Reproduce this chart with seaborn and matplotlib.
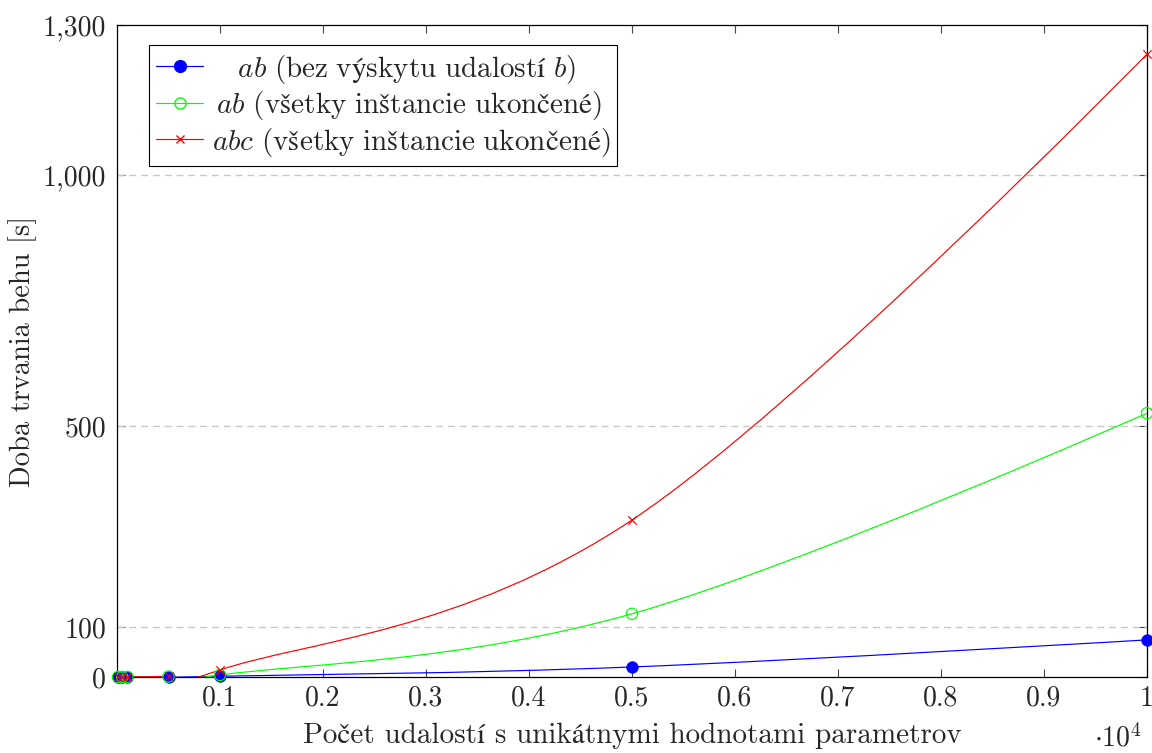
import numpy as np
import pandas as pd
import seaborn as sns
import matplotlib.pyplot as plt
from matplotlib.path import Path
from matplotlib.patches import PathPatch
from matplotlib.lines import Line2D

# pocet udalosti (x) a doba behu v sekundach (y)
events = [10, 50, 100, 500, 1000, 5000, 10000]
ab_no_b = [0.01, 0.05, 0.1, 0.5, 1.5, 20, 74]
ab_all = [0.02, 0.08, 0.2, 0.9, 4, 126, 526]
abc_all = [0.03, 0.15, 0.4, 2, 14, 313, 1242]

# mathtext, kvoli kurzive; medzery na zaciatku napodobnuju centrovanie v legende
series_names = [
    r"$\quad ab\ \mathrm{(bez\ výskytu\ udalostí}\ b\mathrm{)}$",
    r"$\, ab\ \mathrm{(všetky\ inštancie\ ukončené)}$",
    r"$abc\ \mathrm{(všetky\ inštancie\ ukončené)}$",
]

x_ticks = [1000, 2000, 3000, 4000, 5000, 6000, 7000, 8000, 9000, 10000]
x_tick_labels = ["0.1", "0.2", "0.3", "0.4", "0.5", "0.6", "0.7", "0.8", "0.9", "1"]
y_ticks = [0, 100, 500, 1000, 1300]
y_tick_labels = ["0", "100", "500", "1,000", "1,300"]
grid_ticks = [100, 500, 1000]

sns.set_style("ticks")
plt.rcParams["font.family"] = ["cmr10", "STIXGeneral"]
plt.rcParams["mathtext.fontset"] = "custom"
plt.rcParams["mathtext.rm"] = "cmr10"
plt.rcParams["mathtext.it"] = "cmmi10"
plt.rcParams["mathtext.fallback"] = "stix"
plt.rcParams["axes.unicode_minus"] = False
FS = 20


def smooth_path(xs, ys, f=0.55 / 3):
    # tikz-like "smooth" curve: bezier with tangents from the neighbours
    p = np.column_stack([xs, ys]).astype(float)
    n = len(p)
    tan = np.zeros_like(p)
    tan[1:-1] = p[2:] - p[:-2]
    verts = [p[0]]
    codes = [Path.MOVETO]
    for i in range(n - 1):
        verts += [p[i] + f * tan[i], p[i + 1] - f * tan[i + 1], p[i + 1]]
        codes += [Path.CURVE4] * 3
    return Path(verts, codes)


df = pd.DataFrame({
    "events": events * 3,
    "time": ab_no_b + ab_all + abc_all,
    "series": [series_names[0]] * 7 + [series_names[1]] * 7 + [series_names[2]] * 7,
})

fig = plt.figure(figsize=(11.52, 7.53), dpi=100)
ax = fig.add_axes([117 / 1152, 1 - 677 / 753, 1030 / 1152, 652 / 753])

colors = ["#0000ff", "#00ff00", "#ff0000"]
lw = 0.85

for name, col in zip(series_names, colors):
    sub = df[df.series == name]
    ax.add_patch(PathPatch(smooth_path(sub.events.values, sub.time.values),
                           facecolor="none", edgecolor=col, lw=lw, zorder=3))

sub = df[df.series == series_names[0]]
sns.scatterplot(data=sub, x="events", y="time", ax=ax, color=colors[0], marker="o",
                s=70, edgecolor=colors[0], linewidth=0.5, clip_on=False, zorder=4, legend=False)
sub = df[df.series == series_names[1]]
sns.scatterplot(data=sub, x="events", y="time", ax=ax, marker="o", s=66,
                facecolors="none", edgecolor=colors[1], linewidth=lw, clip_on=False, zorder=5, legend=False)
sub = df[df.series == series_names[2]]
sns.scatterplot(data=sub, x="events", y="time", ax=ax, color=colors[2], marker="x",
                s=36, linewidth=lw, clip_on=False, zorder=6, legend=False)

ax.set_xlim(0, 10000)
ax.set_ylim(0, 1300)
ax.set_xticks(x_ticks)
ax.set_xticklabels(x_tick_labels)
ax.set_yticks(y_ticks)
ax.set_yticklabels(y_tick_labels)
ax.tick_params(direction="in", length=6, width=0.8, labelsize=FS, top=True, right=True,
               color="#444444")
ax.tick_params(axis="x", pad=6)
ax.tick_params(axis="y", pad=8)
for s in ax.spines.values():
    s.set_visible(True)
    s.set_linewidth(0.9)
    s.set_color("black")

for g in grid_ticks:
    ax.axhline(g, color="#c8c8c8", lw=1.0, ls=(0, (5, 3.5)), zorder=1)

ax.set_xlabel("Počet udalostí s unikátnymi hodnotami parametrov", fontsize=21, labelpad=8)
ax.set_ylabel("Doba trvania behu [s]", fontsize=20.5, labelpad=4)
fig.text(1118 / 1152, 1 - 738 / 753, r"$\cdot 10^4$", fontsize=FS, ha="center", va="center")

handles = [
    Line2D([], [], color=colors[0], lw=lw, marker="o", ms=8.5),
    Line2D([], [], color=colors[1], lw=lw, marker="o", ms=8, mfc="none"),
    Line2D([], [], color=colors[2], lw=lw, marker="x", ms=6),
]
leg = ax.legend(handles, series_names, loc="upper left", bbox_to_anchor=(0.031, 0.969),
                borderaxespad=0, fontsize=21, frameon=True, fancybox=False, framealpha=1,
                edgecolor="black", handlelength=1.6, handletextpad=0.3, labelspacing=0.12,
                borderpad=0.25)
leg.get_frame().set_linewidth(0.8)

fig.savefig("out.png", dpi=100)
